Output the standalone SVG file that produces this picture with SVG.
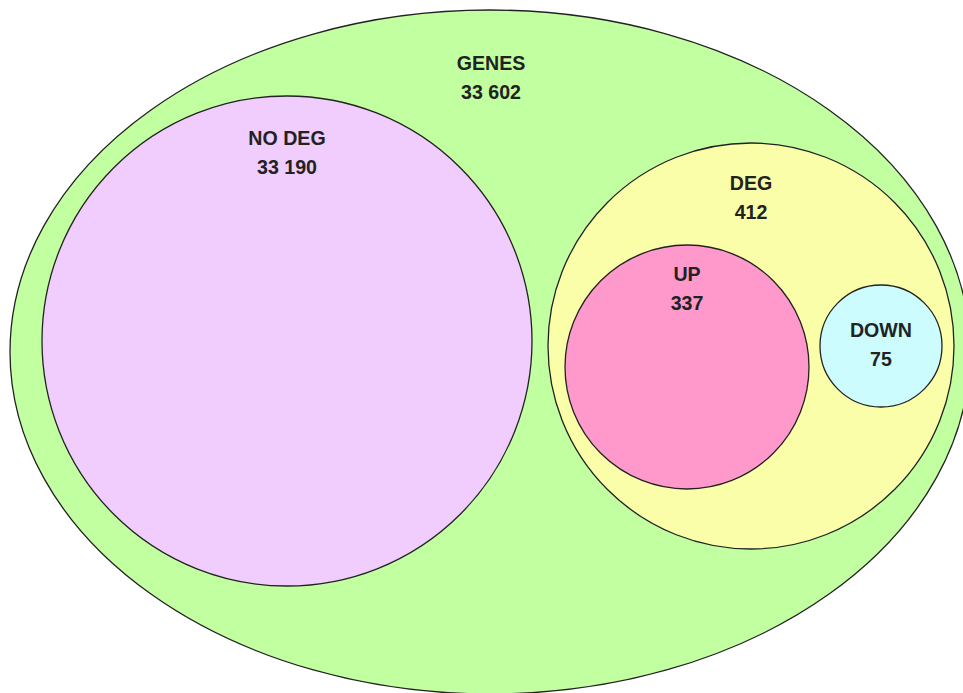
<svg xmlns="http://www.w3.org/2000/svg" width="963" height="693" viewBox="0 0 963 693">
<style>
.s{stroke:#222;stroke-width:1.3}
.t{font-family:"Liberation Sans",Arial,sans-serif;font-weight:bold;font-size:19.6px;fill:#222;text-anchor:middle}
</style>
<rect width="963" height="693" fill="#fff"/>
<g id="genes"><ellipse class="s" cx="490" cy="352" rx="480" ry="342" fill="#c1ffa0"/>
<text class="t" x="491" y="70">GENES</text><text class="t" x="491" y="99">33 602</text></g>
<g id="nodeg"><circle class="s" cx="287" cy="341" r="245" fill="#f0cdfc"/>
<text class="t" x="287" y="145">NO DEG</text><text class="t" x="287" y="174">33 190</text></g>
<g id="deg"><circle class="s" cx="751" cy="346" r="203" fill="#fafea8"/>
<text class="t" x="751" y="190">DEG</text><text class="t" x="751" y="219">412</text></g>
<g id="up"><circle class="s" cx="687" cy="367" r="122" fill="#ff99cc"/>
<text class="t" x="687" y="281">UP</text><text class="t" x="687" y="310">337</text></g>
<g id="down"><circle class="s" cx="881" cy="346" r="61" fill="#ccfcfe"/>
<text class="t" x="881" y="337">DOWN</text><text class="t" x="881" y="366">75</text></g>
<g id="connectors"/>
</svg>
